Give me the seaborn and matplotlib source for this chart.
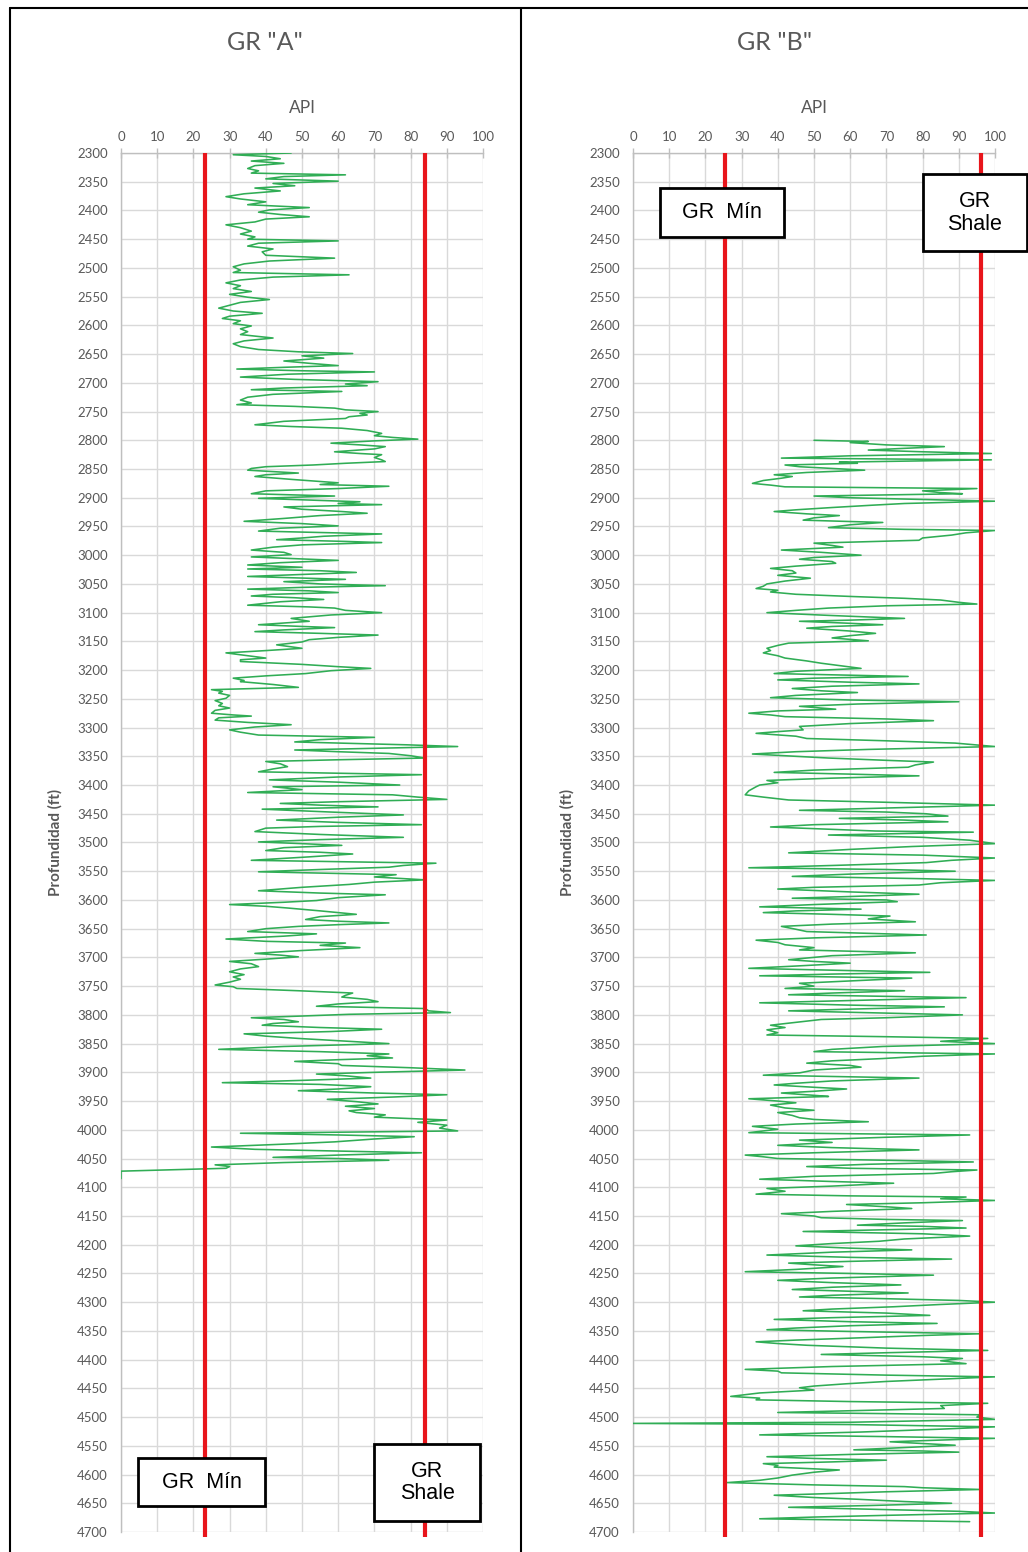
import numpy as np
import pandas as pd
import matplotlib
matplotlib.use("Agg")
import matplotlib.pyplot as plt
from matplotlib.patches import Rectangle
from matplotlib.lines import Line2D
import seaborn as sns

# ---------------- data ----------------
titles = ['GR "A"', 'GR "B"']
x_ticks = list(range(0, 101, 10))
y_ticks = list(range(2300, 4701, 50))

gr_min = [23.2, 25.4]
gr_shale = [84.0, 96.1]

A_depth = [2300, 2303, 2306, 2310, 2314, 2318, 2322, 2327, 2331, 2335, 2338, 2341, 2345, 2349, 2353, 2357,
           2361, 2366, 2371, 2376, 2380, 2385, 2390, 2395, 2399, 2403, 2407, 2411, 2415, 2420, 2425, 2430,
           2436, 2441, 2446, 2450, 2453, 2457, 2462, 2467, 2472, 2478, 2483, 2488, 2493, 2498, 2504, 2508,
           2512, 2516, 2521, 2526, 2531, 2536, 2541, 2546, 2551, 2555, 2560, 2565, 2570, 2575, 2579, 2584,
           2588, 2592, 2597, 2601, 2606, 2611, 2616, 2622, 2627, 2632, 2637, 2642, 2646, 2649, 2653, 2657,
           2662, 2666, 2670, 2673, 2676, 2679, 2681, 2685, 2690, 2694, 2698, 2702, 2705, 2709, 2712, 2715,
           2720, 2725, 2730, 2735, 2738, 2741, 2744, 2747, 2750, 2753, 2756, 2759, 2762, 2767, 2773, 2776,
           2779, 2783, 2788, 2792, 2795, 2798, 2801, 2805, 2808, 2811, 2815, 2820, 2823, 2825, 2830, 2834,
           2837, 2840, 2843, 2846, 2849, 2852, 2857, 2860, 2863, 2868, 2874, 2877, 2880, 2884, 2888, 2893,
           2897, 2901, 2904, 2907, 2910, 2912, 2916, 2920, 2924, 2927, 2931, 2936, 2941, 2945, 2949, 2953,
           2958, 2963, 2967, 2970, 2973, 2976, 2978, 2982, 2986, 2991, 2995, 2999, 3003, 3006, 3009, 3013,
           3017, 3021, 3024, 3027, 3030, 3034, 3037, 3042, 3046, 3050, 3053, 3056, 3059, 3062, 3065, 3068,
           3071, 3074, 3077, 3081, 3087, 3090, 3092, 3096, 3100, 3104, 3110, 3115, 3121, 3124, 3126, 3130,
           3133, 3136, 3139, 3143, 3147, 3151, 3156, 3162, 3166, 3170, 3175, 3179, 3182, 3185, 3190, 3194,
           3197, 3201, 3206, 3210, 3214, 3218, 3220, 3225, 3230, 3234, 3237, 3240, 3244, 3249, 3253, 3258,
           3262, 3266, 3270, 3275, 3278, 3280, 3283, 3287, 3291, 3295, 3299, 3304, 3308, 3313, 3317, 3321,
           3325, 3330, 3333, 3336, 3339, 3342, 3345, 3349, 3353, 3356, 3359, 3363, 3368, 3372, 3377, 3382,
           3386, 3391, 3395, 3400, 3403, 3408, 3413, 3417, 3421, 3425, 3429, 3432, 3435, 3438, 3442, 3447,
           3452, 3456, 3461, 3465, 3469, 3472, 3475, 3481, 3486, 3491, 3495, 3499, 3502, 3505, 3509, 3514,
           3517, 3520, 3525, 3531, 3536, 3540, 3543, 3547, 3551, 3554, 3556, 3560, 3565, 3569, 3573, 3578,
           3584, 3588, 3591, 3596, 3601, 3604, 3608, 3611, 3614, 3619, 3625, 3629, 3634, 3637, 3640, 3643,
           3646, 3650, 3655, 3659, 3663, 3668, 3672, 3675, 3679, 3683, 3688, 3693, 3696, 3699, 3703, 3707,
           3711, 3716, 3720, 3725, 3730, 3734, 3738, 3743, 3748, 3751, 3754, 3758, 3762, 3766, 3769, 3773,
           3777, 3781, 3785, 3789, 3793, 3796, 3799, 3802, 3805, 3808, 3812, 3815, 3818, 3822, 3825, 3829,
           3833, 3837, 3841, 3845, 3850, 3855, 3860, 3864, 3868, 3871, 3875, 3878, 3881, 3885, 3888, 3892,
           3896, 3900, 3903, 3906, 3910, 3914, 3918, 3921, 3925, 3929, 3932, 3936, 3939, 3943, 3947, 3951,
           3955, 3959, 3963, 3967, 3970, 3974, 3978, 3983, 3987, 3992, 3997, 4002, 4006, 4009, 4012, 4016,
           4021, 4025, 4030, 4034, 4037, 4040, 4044, 4048, 4050, 4053, 4057, 4061, 4064, 4067, 4072, 4085]
A_gr = [47, 31, 40, 44, 36, 45, 37, 35, 38, 36, 62, 45, 40, 60, 42, 48,
        37, 44, 34, 29, 33, 40, 35, 52, 41, 38, 44, 52, 40, 37, 29, 33,
        36, 33, 37, 35, 60, 38, 35, 42, 39, 40, 59, 41, 34, 31, 33, 31,
        63, 42, 33, 29, 33, 31, 36, 30, 35, 41, 33, 30, 27, 31, 39, 30,
        28, 33, 31, 36, 33, 35, 33, 42, 34, 31, 33, 38, 49, 64, 50, 56,
        45, 52, 60, 45, 32, 50, 70, 46, 33, 48, 71, 62, 68, 45, 36, 61,
        42, 35, 33, 36, 32, 48, 59, 62, 71, 66, 68, 63, 62, 45, 37, 47,
        61, 68, 72, 70, 75, 82, 70, 58, 66, 73, 70, 59, 66, 72, 70, 72,
        73, 62, 53, 40, 36, 35, 49, 40, 37, 47, 60, 55, 74, 60, 40, 36,
        59, 38, 52, 66, 60, 72, 45, 50, 61, 68, 55, 45, 34, 50, 60, 44,
        38, 72, 56, 50, 43, 62, 72, 50, 42, 36, 45, 47, 36, 48, 60, 44,
        35, 50, 35, 55, 65, 48, 35, 62, 45, 55, 73, 50, 35, 52, 60, 42,
        36, 48, 56, 44, 35, 52, 59, 62, 72, 58, 47, 52, 38, 50, 59, 45,
        37, 55, 71, 60, 52, 50, 43, 50, 40, 29, 35, 40, 33, 33, 50, 60,
        69, 58, 51, 40, 31, 34, 33, 42, 49, 25, 28, 27, 30, 29, 26, 28,
        27, 30, 26, 25, 31, 36, 27, 26, 35, 47, 37, 30, 33, 38, 70, 55,
        48, 79, 93, 70, 48, 60, 74, 80, 84, 60, 40, 44, 46, 42, 38, 83,
        60, 41, 60, 77, 42, 50, 35, 75, 82, 90, 60, 44, 55, 71, 39, 58,
        78, 60, 43, 60, 83, 55, 40, 37, 55, 78, 55, 38, 50, 61, 45, 40,
        55, 64, 52, 36, 87, 78, 74, 55, 38, 60, 76, 70, 84, 70, 63, 50,
        38, 55, 73, 60, 54, 45, 30, 40, 46, 55, 65, 55, 51, 60, 74, 60,
        49, 40, 35, 54, 45, 29, 40, 62, 55, 66, 50, 37, 44, 49, 40, 30,
        36, 38, 33, 30, 34, 31, 33, 30, 26, 31, 32, 49, 64, 62, 61, 68,
        71, 60, 54, 84, 85, 91, 63, 50, 36, 45, 49, 42, 39, 55, 72, 58,
        34, 40, 49, 60, 74, 45, 27, 55, 74, 68, 75, 60, 48, 60, 61, 80,
        95, 70, 54, 62, 69, 50, 28, 55, 69, 60, 49, 70, 90, 75, 57, 65,
        71, 62, 70, 63, 65, 73, 70, 90, 82, 90, 88, 93, 33, 60, 81, 70,
        59, 45, 25, 37, 60, 83, 60, 42, 60, 74, 45, 26, 30, 29, 0, 0]

B_depth = [2800, 2802, 2804, 2808, 2811, 2814, 2817, 2820, 2823, 2827, 2831, 2834, 2838, 2840, 2843, 2846,
           2849, 2852, 2856, 2860, 2863, 2866, 2870, 2875, 2878, 2881, 2884, 2888, 2891, 2893, 2897, 2900,
           2903, 2906, 2910, 2913, 2917, 2921, 2924, 2928, 2931, 2935, 2939, 2943, 2947, 2952, 2955, 2957,
           2961, 2965, 2970, 2974, 2979, 2983, 2986, 2991, 2995, 3000, 3004, 3007, 3011, 3014, 3019, 3023,
           3027, 3031, 3035, 3040, 3045, 3050, 3054, 3058, 3061, 3064, 3068, 3072, 3075, 3078, 3082, 3085,
           3088, 3092, 3096, 3100, 3105, 3110, 3113, 3115, 3118, 3121, 3124, 3127, 3132, 3136, 3140, 3144,
           3149, 3153, 3157, 3162, 3166, 3170, 3175, 3179, 3184, 3188, 3193, 3197, 3202, 3206, 3211, 3214,
           3217, 3221, 3224, 3228, 3232, 3236, 3239, 3244, 3248, 3252, 3255, 3259, 3263, 3268, 3271, 3275,
           3278, 3281, 3285, 3288, 3293, 3298, 3304, 3307, 3310, 3315, 3319, 3323, 3327, 3333, 3338, 3342,
           3346, 3350, 3353, 3357, 3360, 3365, 3369, 3374, 3378, 3381, 3384, 3388, 3392, 3396, 3400, 3403,
           3410, 3417, 3421, 3426, 3430, 3435, 3440, 3444, 3447, 3450, 3454, 3458, 3461, 3464, 3469, 3473,
           3477, 3480, 3482, 3487, 3491, 3496, 3502, 3507, 3512, 3518, 3522, 3527, 3531, 3535, 3540, 3544,
           3547, 3550, 3555, 3559, 3563, 3566, 3570, 3574, 3578, 3581, 3586, 3590, 3594, 3597, 3600, 3603,
           3608, 3612, 3616, 3619, 3622, 3625, 3628, 3633, 3638, 3642, 3646, 3651, 3655, 3658, 3661, 3666,
           3670, 3674, 3678, 3683, 3687, 3692, 3697, 3704, 3707, 3710, 3715, 3719, 3723, 3726, 3729, 3732,
           3736, 3741, 3745, 3750, 3754, 3758, 3762, 3765, 3770, 3775, 3779, 3783, 3786, 3790, 3793, 3797,
           3800, 3805, 3808, 3813, 3818, 3822, 3826, 3831, 3835, 3838, 3841, 3846, 3850, 3855, 3860, 3864,
           3868, 3872, 3876, 3880, 3884, 3888, 3891, 3896, 3901, 3905, 3910, 3915, 3919, 3922, 3926, 3929,
           3933, 3936, 3940, 3942, 3946, 3950, 3953, 3957, 3962, 3966, 3970, 3975, 3979, 3982, 3986, 3990,
           3994, 3999, 4005, 4009, 4013, 4018, 4022, 4027, 4031, 4035, 4040, 4044, 4047, 4050, 4053, 4056,
           4060, 4064, 4067, 4070, 4073, 4076, 4081, 4086, 4090, 4093, 4098, 4102, 4107, 4112, 4115, 4117,
           4120, 4123, 4127, 4130, 4134, 4137, 4142, 4146, 4150, 4153, 4156, 4158, 4162, 4166, 4168, 4171,
           4174, 4177, 4181, 4185, 4190, 4194, 4198, 4202, 4206, 4209, 4213, 4218, 4222, 4225, 4229, 4232,
           4235, 4238, 4243, 4247, 4250, 4253, 4258, 4262, 4266, 4270, 4274, 4278, 4281, 4284, 4288, 4291,
           4294, 4297, 4300, 4304, 4308, 4312, 4315, 4319, 4323, 4327, 4330, 4334, 4337, 4341, 4345, 4348,
           4351, 4355, 4358, 4362, 4366, 4369, 4372, 4375, 4380, 4384, 4388, 4391, 4395, 4398, 4402, 4407,
           4412, 4417, 4420, 4423, 4427, 4430, 4434, 4438, 4442, 4446, 4449, 4453, 4458, 4464, 4467, 4470,
           4473, 4476, 4480, 4485, 4489, 4492, 4494, 4496, 4500, 4504, 4509, 4511, 4513, 4517, 4521, 4526,
           4529, 4531, 4534, 4537, 4540, 4543, 4546, 4549, 4553, 4557, 4559, 4561, 4565, 4569, 4572, 4575,
           4578, 4581, 4584, 4587, 4590, 4592, 4596, 4601, 4606, 4610, 4614, 4618, 4621, 4623, 4626, 4630,
           4633, 4636, 4640, 4643, 4647, 4650, 4654, 4657, 4661, 4664, 4667, 4671, 4674, 4677, 4680, 4682]
B_gr = [50, 65, 60, 70, 86, 75, 65, 80, 99, 60, 41, 99, 57, 62, 42, 46,
        55, 64, 48, 39, 44, 41, 36, 33, 38, 42, 95, 80, 85, 91, 50, 60,
        80, 100, 75, 66, 55, 45, 39, 48, 57, 50, 47, 69, 60, 54, 75, 100,
        92, 88, 80, 79, 50, 55, 58, 41, 52, 63, 50, 46, 55, 56, 45, 38,
        44, 45, 40, 49, 42, 37, 36, 34, 40, 38, 45, 61, 75, 85, 90, 95,
        70, 54, 45, 37, 55, 75, 60, 46, 58, 69, 55, 48, 60, 67, 60, 55,
        65, 43, 40, 37, 38, 36, 40, 42, 48, 52, 58, 63, 45, 39, 76, 50,
        40, 60, 79, 55, 44, 52, 62, 45, 38, 60, 90, 62, 46, 56, 40, 32,
        38, 42, 70, 83, 60, 46, 47, 40, 34, 45, 48, 70, 89, 100, 65, 45,
        33, 45, 54, 70, 83, 78, 76, 50, 39, 60, 79, 55, 37, 40, 35, 34,
        32, 31, 36, 43, 70, 100, 70, 46, 70, 81, 87, 57, 75, 87, 50, 38,
        55, 67, 94, 54, 80, 93, 100, 77, 60, 43, 80, 100, 88, 81, 55, 32,
        70, 89, 60, 44, 80, 100, 85, 79, 50, 40, 60, 79, 60, 44, 70, 73,
        50, 35, 63, 45, 36, 55, 71, 65, 78, 55, 41, 45, 48, 65, 81, 50,
        34, 40, 42, 50, 46, 78, 55, 43, 50, 60, 45, 32, 60, 82, 55, 35,
        77, 60, 46, 50, 42, 75, 55, 43, 92, 60, 35, 60, 86, 60, 43, 70,
        91, 70, 52, 45, 38, 42, 37, 40, 37, 70, 98, 85, 100, 69, 55, 50,
        100, 80, 69, 55, 48, 60, 63, 50, 46, 36, 79, 55, 45, 39, 50, 59,
        50, 41, 50, 54, 32, 40, 45, 38, 42, 50, 40, 44, 46, 50, 65, 45,
        33, 40, 32, 93, 70, 46, 55, 40, 55, 79, 50, 31, 36, 40, 70, 94,
        65, 48, 60, 95, 88, 83, 50, 35, 55, 72, 55, 37, 42, 34, 60, 92,
        85, 100, 80, 59, 70, 77, 55, 41, 50, 52, 70, 91, 75, 62, 80, 92,
        70, 47, 80, 93, 75, 68, 55, 45, 60, 77, 55, 37, 60, 88, 60, 43,
        50, 58, 45, 31, 60, 83, 55, 40, 55, 74, 55, 44, 60, 76, 55, 46,
        70, 90, 100, 85, 72, 55, 47, 70, 82, 55, 39, 60, 84, 60, 45, 37,
        60, 96, 80, 63, 45, 34, 40, 48, 70, 98, 70, 52, 80, 91, 85, 92,
        55, 31, 40, 41, 70, 100, 85, 70, 59, 50, 46, 50, 35, 27, 35, 34,
        60, 98, 85, 86, 60, 40, 70, 96, 95, 100, 60, 0, 60, 100, 85, 63,
        45, 35, 70, 100, 85, 71, 80, 89, 75, 61, 80, 90, 60, 37, 50, 70,
        55, 36, 40, 39, 50, 57, 50, 44, 40, 35, 26, 50, 75, 80, 96, 70,
        55, 39, 50, 62, 75, 88, 65, 43, 70, 90, 100, 70, 50, 35, 70, 93]

logs = [pd.DataFrame({"Profundidad": A_depth, "GR": A_gr}),
        pd.DataFrame({"Profundidad": B_depth, "GR": B_gr})]

# ---------------- style ----------------
sns.set_style("white")
plt.rcParams["font.family"] = ["Lato", "DejaVu Sans"]

TXT = "#595959"
GRID = "#d9d9d9"
AXC = "#bfbfbf"
GREEN = "#30ad55"
RED = "#e8151b"

W, H = 1028, 1552
fig = plt.figure(figsize=(W / 100, H / 100), dpi=100)

axes_px = [(121, 483), (633, 995)]
top_px, bot_px = 153, 1532
panel_px = [(10, 520), (521, 1028)]

# label boxes: (x0, x1, d0, d1) in data units for [min, shale]
boxes = [
    [(4.7, 39.8, 4571, 4655, "GR  Mín"), (69.9, 99.2, 4547, 4681, "GR\nShale")],
    [(7.5, 41.7, 2361, 2446, "GR  Mín"), (80.1, 108.8, 2337, 2471, "GR\nShale")],
]

for i in range(2):
    x0, x1 = axes_px[i]
    ax = fig.add_axes([x0 / W, (H - bot_px) / H, (x1 - x0) / W, (bot_px - top_px) / H])

    sns.lineplot(data=logs[i], x="GR", y="Profundidad", sort=False, estimator=None,
                 orient="y", color=GREEN, lw=1.15, ax=ax, zorder=3)

    ax.set_xlim(0, 100)
    ax.set_ylim(4700, 2300)
    ax.xaxis.tick_top()
    ax.xaxis.set_label_position("top")
    ax.set_xticks(x_ticks)
    ax.set_yticks(y_ticks)
    ax.grid(True, color=GRID, lw=1.0)
    ax.set_axisbelow(True)
    for s in ["right", "bottom"]:
        ax.spines[s].set_visible(False)
    for s in ["left", "top"]:
        ax.spines[s].set_color(AXC)
        ax.spines[s].set_linewidth(1.0)
    ax.tick_params(axis="both", direction="inout", length=7, width=1, color=AXC,
                   labelcolor=TXT, labelsize=9.5)
    ax.tick_params(axis="x", pad=3.5)
    ax.tick_params(axis="y", pad=6)
    ax.set_xlabel("API", color=TXT, fontsize=12.5, labelpad=13)
    ax.set_ylabel("Profundidad (ft)", color=TXT, fontsize=11, fontweight="bold", labelpad=10)

    for v in (gr_min[i], gr_shale[i]):
        ax.vlines(v, 2300, 4709, color=RED, lw=3, zorder=4, clip_on=False)

    for (bx0, bx1, d0, d1, label) in boxes[i]:
        ax.add_patch(Rectangle((bx0, d0), bx1 - bx0, d1 - d0, facecolor="white",
                               edgecolor="black", lw=2, zorder=6, clip_on=False))
        ax.text((bx0 + bx1) / 2, (d0 + d1) / 2, label, ha="center", va="center",
                fontsize=15.5, family=["Liberation Sans", "DejaVu Sans"], color="black",
                zorder=7, clip_on=False, linespacing=1.1)

    p0, p1 = panel_px[i]
    fig.text((p0 + p1) / 2 / W, 1 - 43 / H, titles[i], ha="center", va="center",
             fontsize=18, color=TXT)

# panel frame lines
fig.add_artist(Line2D([10 / W, 10 / W], [0, 1 - 8 / H], color="black", lw=1.5))
fig.add_artist(Line2D([10 / W, 1], [1 - 8 / H, 1 - 8 / H], color="black", lw=1.5))
fig.add_artist(Line2D([520.5 / W, 520.5 / W], [0, 1 - 8 / H], color="black", lw=1.5))

fig.savefig("out.png", dpi=100)
